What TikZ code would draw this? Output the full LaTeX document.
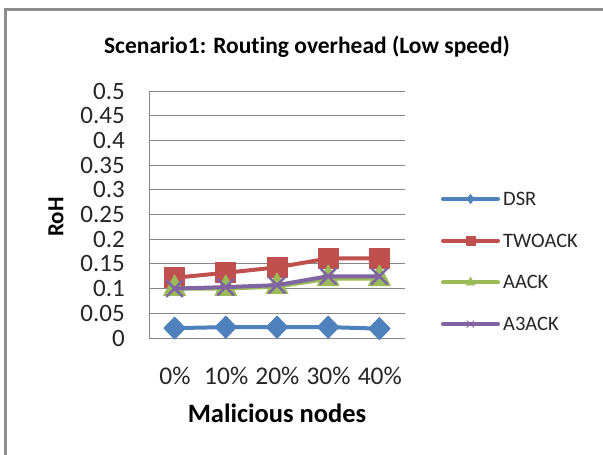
\documentclass[tikz,border=0pt]{standalone}
\usepackage{fontspec}
\setmainfont{Carlito}[Ligatures=NoCommon]
\usetikzlibrary{plotmarks}
\definecolor{dsrblue}{HTML}{4F81BD}
\definecolor{twored}{HTML}{C0504D}
\definecolor{aackgreen}{HTML}{9BBB59}
\definecolor{a3purple}{HTML}{8064A2}
\definecolor{gridgray}{HTML}{868686}
\definecolor{framegray}{HTML}{8C8C8C}
\definecolor{labelgray}{HTML}{262626}
\tikzset{
  grid line/.style={draw=gridgray, line width=1pt},
  tick label/.style={anchor=east, inner sep=0pt, font=\fontsize{25}{25}\selectfont, text=labelgray},
  cat label/.style={anchor=center, inner sep=0pt, font=\fontsize{25.5}{25.5}\selectfont, text=labelgray},
  series/.style={line width=4pt, line join=round, line cap=round},
  legend text/.style={anchor=west, inner sep=0pt, font=\fontsize{20.5}{20.5}\selectfont, text=labelgray},
  dsrline/.style={series, color=dsrblue, mark=diamond*, mark size=11pt, mark options={fill=dsrblue, line width=1pt, xscale=1.3}},
  twoline/.style={series, color=twored, mark=square*, mark size=10pt, mark options={fill=twored, line width=1pt, rounded corners=1pt}},
  aackline/.style={series, color=aackgreen, mark=triangle*, mark size=12.5pt, mark options={fill=aackgreen, line width=1pt, yscale=1.1}},
  a3line/.style={series, color=a3purple, mark=x, mark size=11pt, mark options={line width=2.5pt}},
}
\begin{document}
\begin{tikzpicture}[x=1pt, y=-1pt]
  \useasboundingbox (0,0) rectangle (603,455);
  \fill[white] (0,0) rectangle (603,455);
  % chart frame (top and left edges)
  \draw[framegray, line width=2.5pt] (5.5,456) -- (5.5,9.5) -- (604,9.5);

  % title
  \node[inner sep=0pt, font=\fontsize{23.5}{23.5}\selectfont\bfseries] (title) at (307,47) {Scenario1: Routing overhead (Low speed)};

  % value axis: gridlines and labels
  \foreach \k/\lab in {0/0,1/0.05,2/0.1,3/0.15,4/0.2,5/0.25,6/0.3,7/0.35,8/0.4,9/0.45,10/0.5} {
    \draw[grid line] (149,{338-\k*24.7}) -- (405,{338-\k*24.7});
    \node[tick label] (ytick\k) at (125,{338-\k*24.7}) {\lab};
  }
  \draw[grid line] (149,91) -- (149,338);

  % axis titles
  \node[rotate=90, inner sep=0pt, font=\fontsize{23}{23}\selectfont\bfseries] (ytitle) at (56,217) {RoH};
  \node[inner sep=0pt, font=\fontsize{26.5}{26.5}\selectfont\bfseries] (xtitle) at (277,413) {Malicious nodes};

  % category labels
  \foreach \i/\lab in {0/0\%,1/10\%,2/20\%,3/30\%,4/40\%} {
    \node[cat label] (xtick\i) at ({175+\i*51.2},376) {\lab};
  }

  % data series (x: pixels from axis, y: value)
  \begin{scope}[shift={(149,338)}, x=1pt, y=494pt]
    \draw[dsrline] plot coordinates {(25.6,0.02) (76.8,0.022) (128,0.022) (179.2,0.022) (230.4,0.019)};
    \draw[twoline] plot coordinates {(25.6,0.122) (76.8,0.132) (128,0.143) (179.2,0.161) (230.4,0.161)};
    \draw[aackline] plot coordinates {(25.6,0.1) (76.8,0.1) (128,0.104) (179.2,0.12) (230.4,0.12)};
    \draw[a3line] plot coordinates {(25.6,0.1) (76.8,0.103) (128,0.107) (179.2,0.125) (230.4,0.125)};
  \end{scope}

  % legend: a short line with one marker in its middle
  \foreach \n/\st/\ms/\lab [count=\j from 0] in {dsr/dsrline/4.5pt/DSR, two/twoline/4.5pt/TWOACK, aack/aackline/5pt/AACK, athree/a3line/5pt/A3ACK} {
    \draw[\st, mark size=\ms, mark indices={2}, mark options={line width=0.8pt}] plot coordinates {(443,{199+\j*41.7}) (470.5,{199+\j*41.7}) (498,{199+\j*41.7})};
    \node[legend text] (leg\n) at (503,{199+\j*41.7}) {\lab};
  }
\end{tikzpicture}
\end{document}
